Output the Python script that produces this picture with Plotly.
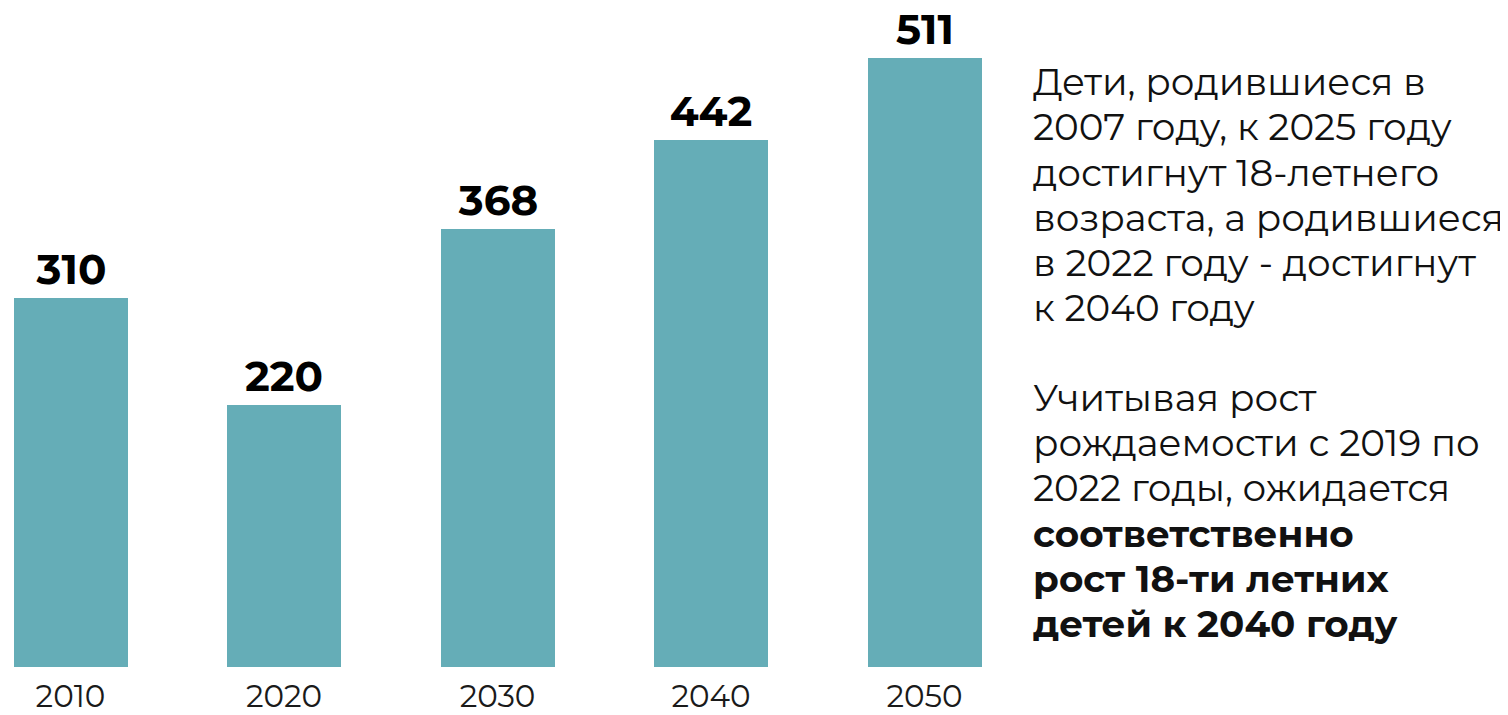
import plotly.graph_objects as go

years = ["2010", "2020", "2030", "2040", "2050"]
values = [310, 220, 368, 442, 511]

note_lines = [
    "Дети, родившиеся в",
    "2007 году, к 2025 году",
    "достигнут 18-летнего",
    "возраста, а родившиеся",
    "в 2022 году - достигнут",
    "к 2040 году",
    "",
    "Учитывая рост",
    "рождаемости с 2019 по",
    "2022 годы, ожидается",
    "<b>соответственно</b>",
    "<b>рост 18-ти летних</b>",
    "<b>детей к 2040 году</b>",
]

bar_color = "#65adb7"
font_family = "Montserrat, 'Open Sans', sans-serif"

# page body has an 8px margin; compensate so the visible window matches
OFF = 8
W, H = 1508 - OFF, 715 - OFF
plot_bottom = 677 - OFF
px_per_unit = 1.2096
step = 213.5

fig = go.Figure(
    go.Bar(
        x=list(range(len(years))),
        y=values,
        width=0.534,
        marker=dict(color=bar_color, line=dict(width=0)),
        text=[str(v) for v in values],
        textposition="outside",
        textfont=dict(family=font_family, size=42, color="#000000", weight="bold"),
        cliponaxis=False,
        hoverinfo="skip",
    )
)

plot_w = 1000
x0 = -(70.5 - OFF) / step
fig.update_layout(
    width=W,
    height=H,
    margin=dict(l=0, r=0, t=0, b=H - plot_bottom),
    paper_bgcolor="white",
    plot_bgcolor="white",
    showlegend=False,
    bargap=0,
    xaxis=dict(
        domain=[0, plot_w / W],
        range=[x0, x0 + plot_w / step],
        tickmode="array",
        tickvals=list(range(len(years))),
        ticktext=years,
        tickfont=dict(family=font_family, size=31, color="#1a1a1a"),
        ticklabelstandoff=8,
        showgrid=False,
        zeroline=False,
        showline=False,
        ticks="",
    ),
    yaxis=dict(
        range=[0, plot_bottom / px_per_unit],
        visible=False,
    ),
)

first_center = 83 - OFF
line_gap = 45.8
for i, line in enumerate(note_lines):
    if not line:
        continue
    yc = first_center + i * line_gap
    fig.add_annotation(
        text=line,
        xref="paper",
        yref="paper",
        x=1023 / W,
        y=1 - yc / plot_bottom,
        xanchor="left",
        yanchor="middle",
        align="left",
        showarrow=False,
        font=dict(family=font_family, size=37.3, color="#111111"),
    )

fig.write_html("out.html")
